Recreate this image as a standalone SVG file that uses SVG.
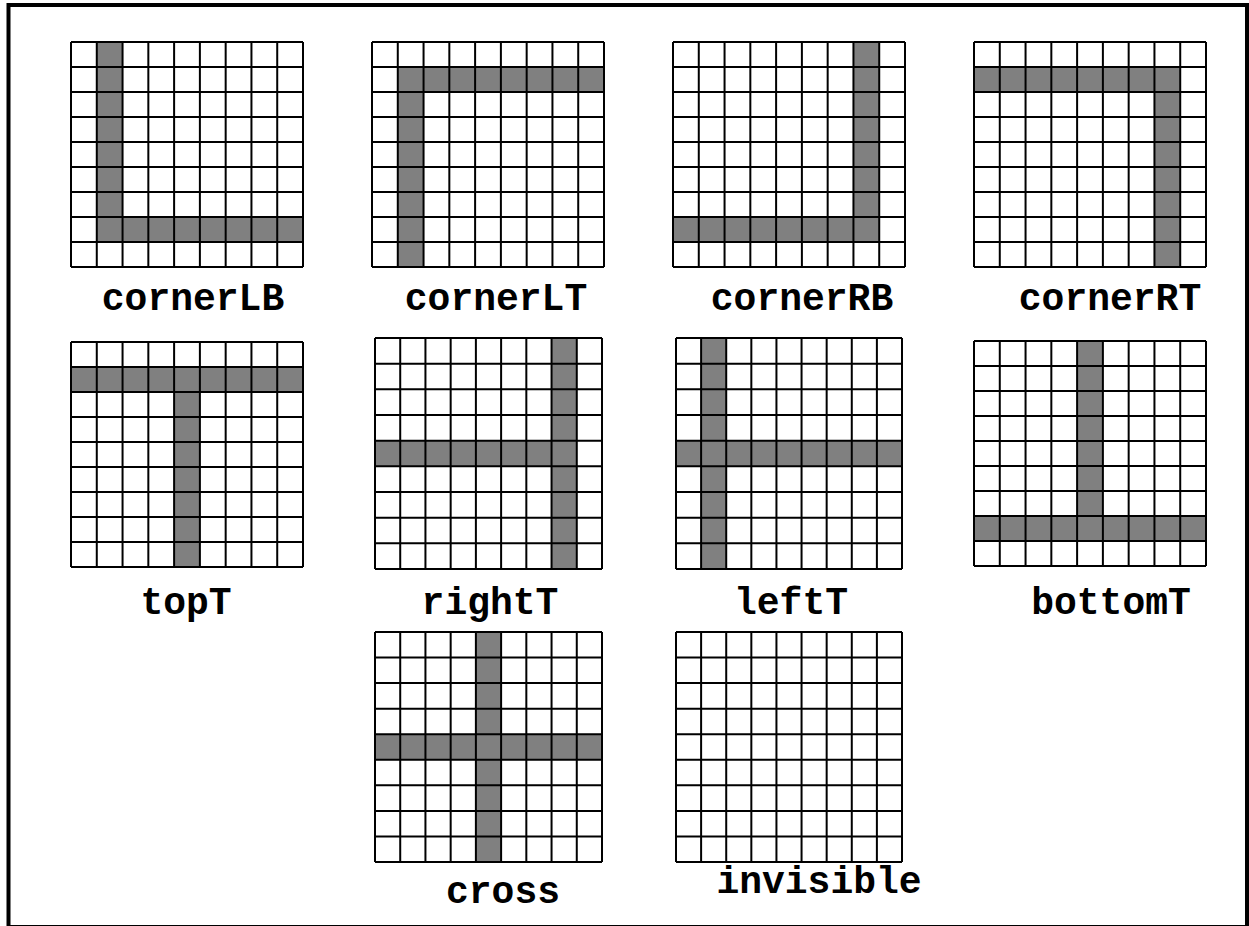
<svg xmlns="http://www.w3.org/2000/svg" xmlns:xlink="http://www.w3.org/1999/xlink" width="1249" height="926" viewBox="0 0 1249 926">
<style>
.bg{fill:#ffffff}
.on{fill:#808080}
.ln{fill:none;stroke:#000000;stroke-width:2;vector-effect:non-scaling-stroke}
.lbl{font-family:"Liberation Mono","Courier New",monospace;font-weight:bold;font-size:38px;fill:#000000;text-anchor:middle}
</style>
<defs>
<path id="lines" class="ln" d="M0 0V9M1 0V9M2 0V9M3 0V9M4 0V9M5 0V9M6 0V9M7 0V9M8 0V9M9 0V9M0 0H9M0 1H9M0 2H9M0 3H9M0 4H9M0 5H9M0 6H9M0 7H9M0 8H9M0 9H9"/>
</defs>
<rect x="0" y="0" width="1249" height="926" fill="#ffffff"/>
<rect id="frame" x="8.5" y="5" width="1238.5" height="922" fill="none" stroke="#000000" stroke-width="4"/>
<g id="connectors"></g>

<g id="node-cornerLB">
<g transform="translate(71,42) scale(25.778,25)">
<rect class="bg" width="9" height="9"/>
<rect class="on" x="1" y="0" width="1" height="8"/>
<rect class="on" x="1" y="7" width="8" height="1"/>
<use xlink:href="#lines" href="#lines"/>
</g>
<text class="lbl" x="193" y="310">cornerLB</text>
</g>

<g id="node-cornerLT">
<g transform="translate(372,42) scale(25.778,25)">
<rect class="bg" width="9" height="9"/>
<rect class="on" x="1" y="1" width="8" height="1"/>
<rect class="on" x="1" y="1" width="1" height="8"/>
<use xlink:href="#lines" href="#lines"/>
</g>
<text class="lbl" x="496" y="310">cornerLT</text>
</g>

<g id="node-cornerRB">
<g transform="translate(673,42) scale(25.778,25)">
<rect class="bg" width="9" height="9"/>
<rect class="on" x="7" y="0" width="1" height="8"/>
<rect class="on" x="0" y="7" width="8" height="1"/>
<use xlink:href="#lines" href="#lines"/>
</g>
<text class="lbl" x="802" y="310">cornerRB</text>
</g>

<g id="node-cornerRT">
<g transform="translate(974,42) scale(25.778,25)">
<rect class="bg" width="9" height="9"/>
<rect class="on" x="0" y="1" width="8" height="1"/>
<rect class="on" x="7" y="1" width="1" height="8"/>
<use xlink:href="#lines" href="#lines"/>
</g>
<text class="lbl" x="1110" y="310">cornerRT</text>
</g>

<g id="node-topT">
<g transform="translate(71,342) scale(25.778,25)">
<rect class="bg" width="9" height="9"/>
<rect class="on" x="0" y="1" width="9" height="1"/>
<rect class="on" x="4" y="1" width="1" height="8"/>
<use xlink:href="#lines" href="#lines"/>
</g>
<text class="lbl" x="186" y="614">topT</text>
</g>

<g id="node-rightT">
<g transform="translate(375,338) scale(25.222,25.667)">
<rect class="bg" width="9" height="9"/>
<rect class="on" x="7" y="0" width="1" height="9"/>
<rect class="on" x="0" y="4" width="8" height="1"/>
<use xlink:href="#lines" href="#lines"/>
</g>
<text class="lbl" x="490" y="614">rightT</text>
</g>

<g id="node-leftT">
<g transform="translate(676,338) scale(25.111,25.667)">
<rect class="bg" width="9" height="9"/>
<rect class="on" x="1" y="0" width="1" height="9"/>
<rect class="on" x="0" y="4" width="9" height="1"/>
<use xlink:href="#lines" href="#lines"/>
</g>
<text class="lbl" x="791" y="614">leftT</text>
</g>

<g id="node-bottomT">
<g transform="translate(974,341) scale(25.778,25)">
<rect class="bg" width="9" height="9"/>
<rect class="on" x="4" y="0" width="1" height="8"/>
<rect class="on" x="0" y="7" width="9" height="1"/>
<use xlink:href="#lines" href="#lines"/>
</g>
<text class="lbl" x="1111" y="614">bottomT</text>
</g>

<g id="node-cross">
<g transform="translate(375,632) scale(25.222,25.556)">
<rect class="bg" width="9" height="9"/>
<rect class="on" x="4" y="0" width="1" height="9"/>
<rect class="on" x="0" y="4" width="9" height="1"/>
<use xlink:href="#lines" href="#lines"/>
</g>
<text class="lbl" x="503" y="903">cross</text>
</g>

<g id="node-invisible">
<g transform="translate(676,632) scale(25.111,25.556)">
<rect class="bg" width="9" height="9"/>
<use xlink:href="#lines" href="#lines"/>
</g>
<text class="lbl" x="819" y="893">invisible</text>
</g>
</svg>
